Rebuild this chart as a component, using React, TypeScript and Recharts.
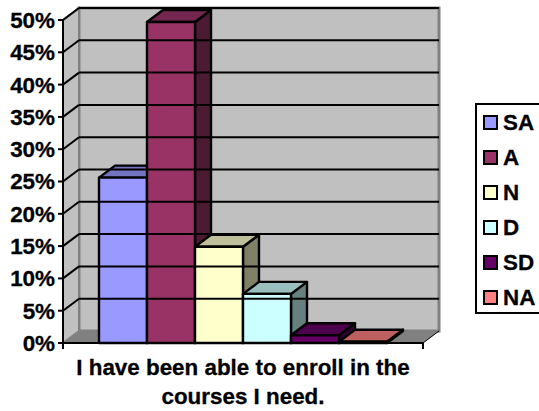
import React from "react";
import { BarChart, Bar, XAxis, YAxis, ReferenceArea, ReferenceLine, Legend } from "recharts";

const categories = ["I have been able to enroll in the courses I need."];
const seriesNames = ["SA", "A", "N", "D", "SD", "NA"];
const seriesValues = [25.6, 49.7, 14.9, 7.6, 1.2, 0.2];
const yTicks = [0, 5, 10, 15, 20, 25, 30, 35, 40, 45, 50];

// front / top / side shades of each bar
const colors = ["#9999FF", "#993366", "#FFFFCC", "#CCFFFF", "#660066", "#FF8080"];
const topColors = ["#7373BF", "#732650", "#BFBF99", "#99BFBF", "#4D004D", "#BF6060"];
const sideColors = ["#4D4D80", "#4D1A33", "#808066", "#668080", "#330033", "#804040"];

const DX = 16;
const DY = -12;
const WALL = "#C0C0C0";
const EDGE = "#808080";
const FONT = "'Liberation Sans', Arial, sans-serif";

const row: Record<string, any> = { name: categories[0] };
seriesNames.forEach((n, i) => {
  row[n] = seriesValues[i];
});
const data = [row];

const pts = (list: number[][]) => list.map((p) => p.join(",")).join(" ");

const Box = ({ x, y, width, height, index }: any) => {
  const r = x + width;
  const b = y + height;
  return (
    <g stroke="#000" strokeWidth={2.4} strokeLinejoin="round">
      <polygon points={pts([[r, y], [r + DX, y + DY], [r + DX, b + DY], [r, b]])} fill={sideColors[index]} />
      <polygon points={pts([[x, y], [x + DX, y + DY], [r + DX, y + DY], [r, y]])} fill={topColors[index]} />
      <rect x={x} y={y} width={width} height={height} fill={colors[index]} />
    </g>
  );
};

const Walls = ({ x, y, width, height }: any) => {
  const r = x + width;
  const b = y + height;
  return (
    <g>
      <polygon points={pts([[x + DX, y + DY], [r + DX, y + DY], [r + DX, b + DY], [x + DX, b + DY]])} fill={WALL} stroke={EDGE} strokeWidth={3} />
      <polygon points={pts([[x, y], [x + DX, y + DY], [x + DX, b + DY], [x, b]])} fill={WALL} stroke={EDGE} strokeWidth={2} />
      <polygon points={pts([[x, b], [x + DX, b + DY], [r + DX, b + DY], [r, b]])} fill={EDGE} />
      <line x1={x} y1={b} x2={x} y2={b + 6} stroke="#000" strokeWidth={2} />
      <line x1={r} y1={b} x2={r} y2={b + 6} stroke="#000" strokeWidth={2} />
      <line x1={r} y1={b} x2={r + DX} y2={b + DY} stroke="#000" strokeWidth={1} />
    </g>
  );
};

const GridLine = ({ x1, y1, x2, y2 }: any) => (
  <g stroke="#000" strokeWidth={2}>
    <line x1={x1} y1={y1} x2={x1 + DX} y2={y1 + DY} />
    <line x1={x1 + DX} y1={y1 + DY} x2={x2 + DX} y2={y2 + DY} />
  </g>
);

const CategoryTick = ({ x, y, payload }: any) => {
  const words = String(payload.value);
  const cut = words.indexOf("courses");
  return (
    <text x={x} y={y} textAnchor="middle" fontFamily={FONT} fontWeight="bold" fontSize={22.4} fill="#000" stroke="#000" strokeWidth={0.3}>
      <tspan x={x} dy={24}>{words.slice(0, cut).trim()}</tspan>
      <tspan x={x} dy={29}>{words.slice(cut)}</tspan>
    </text>
  );
};

const LegendBox = ({ payload }: any) => (
  <div style={{ width: 80, height: 211, boxSizing: "border-box", border: "2px solid #000", background: "#fff", paddingLeft: 6 }}>
    {payload.map((p: any) => (
      <div key={p.value} style={{ height: 35, display: "flex", alignItems: "center", fontFamily: FONT, fontWeight: "bold", fontSize: 22.4, color: "#000", WebkitTextStroke: "0.3px #000" }}>
        <span style={{ width: 15, height: 15, boxSizing: "border-box", border: "2px solid #000", background: p.color, marginRight: 5 }} />
        {p.value}
      </div>
    ))}
  </div>
);

export default function App() {
  return (
    <div style={{ position: "absolute", left: 0, top: 0, width: 539, height: 411, overflow: "hidden", background: "#fff" }}>
      <BarChart
        width={539}
        height={411}
        data={data}
        margin={{ top: 20, right: 36, bottom: 0, left: 0 }}
        barCategoryGap="10%"
        barGap={0}
      >
        <XAxis dataKey="name" height={68} tickLine={false} axisLine={{ stroke: "#000", strokeWidth: 2 }} tick={<CategoryTick />} interval={0} />
        <YAxis
          width={63}
          domain={[0, 50]}
          ticks={yTicks}
          interval={0}
          tickFormatter={(v: number) => `${v}%`}
          tickSize={5}
          tickMargin={3}
          axisLine={{ stroke: "#000", strokeWidth: 2 }}
          tickLine={{ stroke: "#000", strokeWidth: 2 }}
          tick={{ fontFamily: FONT, fontWeight: "bold", fontSize: 22.4, fill: "#000", stroke: "#000", strokeWidth: 0.3 }}
        />
        <ReferenceArea y1={0} y2={50} shape={<Walls />} />
        {yTicks.filter((t) => t > 0).map((t) => (
          <ReferenceLine key={t} y={t} shape={<GridLine />} />
        ))}
        <Legend
          layout="vertical"
          align="right"
          verticalAlign="top"
          itemSorter={null}
          content={<LegendBox />}
          wrapperStyle={{ left: 475, top: 103, width: 80, height: 211 }}
        />
        {seriesNames.map((n, i) => (
          <Bar key={n} dataKey={n} fill={colors[i]} isAnimationActive={false} shape={(p: any) => <Box {...p} index={i} />} />
        ))}
      </BarChart>
    </div>
  );
}
